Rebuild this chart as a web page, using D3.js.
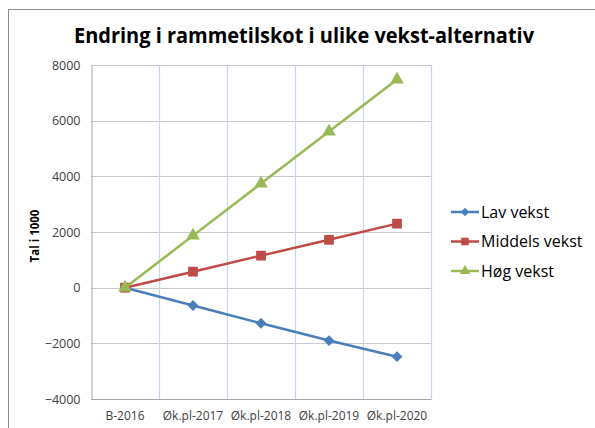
<!DOCTYPE html>
<html lang="nn">
<head>
<meta charset="UTF-8">
<title>Endring i rammetilskot</title>
<script src="https://d3js.org/d3.v7.min.js"></script>
<style>
  body { margin: 0; background: #fff; }
  text { font-family: "Open Sans", "DejaVu Sans", sans-serif; }
</style>
</head>
<body>
<div id="chart"></div>
<script>
// data
const categories = ["B-2016", "Øk.pl-2017", "Øk.pl-2018", "Øk.pl-2019", "Øk.pl-2020"];
const lavVekst = [0, -640, -1280, -1900, -2480];
const middelsVekst = [0, 575, 1150, 1720, 2300];
const hogVekst = [0, 1870, 3740, 5610, 7480];
const seriesNames = ["Lav vekst", "Middels vekst", "Høg vekst"];
const yTicks = [-4000, -2000, 0, 2000, 4000, 6000, 8000];

const series = [
  { name: seriesNames[0], values: lavVekst, color: "#4a7ebb", shape: d3.symbolDiamond2, size: 75 },
  { name: seriesNames[1], values: middelsVekst, color: "#be4b48", shape: d3.symbolSquare, size: 95 },
  { name: seriesNames[2], values: hogVekst, color: "#98b954", shape: d3.symbolTriangle, size: 80 }
];

const W = 595, H = 428;
const plot = { left: 91, right: 431, top: 65, bottom: 399 };

const svg = d3.select("#chart").append("svg")
  .attr("width", W).attr("height", H);

// outer chart frame
svg.append("rect")
  .attr("x", 8.5).attr("y", 9.5)
  .attr("width", W + 10).attr("height", H + 10)
  .attr("fill", "none").attr("stroke", "#8c8c8c").attr("stroke-width", 1);

svg.append("text")
  .attr("x", 304).attr("y", 43)
  .attr("text-anchor", "middle")
  .attr("font-size", 21).attr("font-weight", "bold")
  .attr("textLength", 460).attr("lengthAdjust", "spacingAndGlyphs")
  .attr("fill", "#000")
  .text("Endring i rammetilskot i ulike vekst-alternativ");

const x = d3.scaleBand().domain(categories).range([plot.left, plot.right]);
const y = d3.scaleLinear().domain([-4000, 8000]).range([plot.bottom, plot.top]);

// horizontal gridlines
svg.append("g").selectAll("line")
  .data(yTicks).join("line")
  .attr("x1", plot.left).attr("x2", plot.right)
  .attr("y1", d => Math.round(y(d)) + 0.5).attr("y2", d => Math.round(y(d)) + 0.5)
  .attr("stroke", "#c8c8c8").attr("stroke-width", 1);

// vertical gridlines (between categories)
svg.append("g").selectAll("line")
  .data(categories.slice(1).concat(["end"]))
  .join("line")
  .attr("x1", d => Math.round(d === "end" ? plot.right : x(d)) + 0.5)
  .attr("x2", d => Math.round(d === "end" ? plot.right : x(d)) + 0.5)
  .attr("y1", plot.top).attr("y2", plot.bottom)
  .attr("stroke", "#c6d6f2").attr("stroke-width", 1.2);

// y axis
const yAxis = svg.append("g")
  .attr("transform", `translate(${plot.left + 0.5},0)`)
  .call(d3.axisLeft(y).tickValues(yTicks).tickSize(0).tickPadding(11).tickFormat(d3.format("d")));
yAxis.select(".domain").attr("stroke", "#a6a6a6");
yAxis.selectAll("text").attr("font-size", 12.5).attr("fill", "#404040")
  .style("font-family", "'Open Sans', sans-serif");

// x axis labels
const xAxis = svg.append("g")
  .attr("transform", `translate(0,${plot.bottom})`)
  .call(d3.axisBottom(x).tickSize(0).tickPadding(12));
xAxis.select(".domain").attr("stroke", "#a6a6a6");
xAxis.selectAll("text").attr("font-size", 12).attr("fill", "#404040")
  .style("font-family", "'Open Sans', sans-serif");

svg.append("text")
  .attr("transform", "translate(39,236) rotate(-90)")
  .attr("text-anchor", "middle")
  .attr("font-size", 11.5).attr("font-weight", "bold")
  .text("Tal i 1000");

const cx = (d, i) => x(categories[i]) + x.bandwidth() / 2;
const line = d3.line().x(cx).y(d => y(d));

series.forEach(s => {
  svg.append("path")
    .datum(s.values)
    .attr("fill", "none").attr("stroke", s.color).attr("stroke-width", 2.5)
    .attr("d", line);
  svg.append("g").selectAll("path")
    .data(s.values).join("path")
    .attr("transform", (d, i) => `translate(${cx(d, i)},${y(d)})`)
    .attr("d", d3.symbol().type(s.shape).size(s.size))
    .attr("fill", s.color);
});

// legend
const legend = svg.append("g");
series.forEach((s, i) => {
  const ly = 212 + i * 29.5;
  legend.append("line")
    .attr("x1", 451).attr("x2", 479).attr("y1", ly).attr("y2", ly)
    .attr("stroke", s.color).attr("stroke-width", 2.5);
  legend.append("path")
    .attr("transform", `translate(465,${ly})`)
    .attr("d", d3.symbol().type(s.shape).size(s.size * 0.6))
    .attr("fill", s.color);
  legend.append("text")
    .attr("x", 481).attr("y", ly + 5.5)
    .attr("font-size", 16).attr("fill", "#000")
    .text(s.name);
});
</script>
</body>
</html>
